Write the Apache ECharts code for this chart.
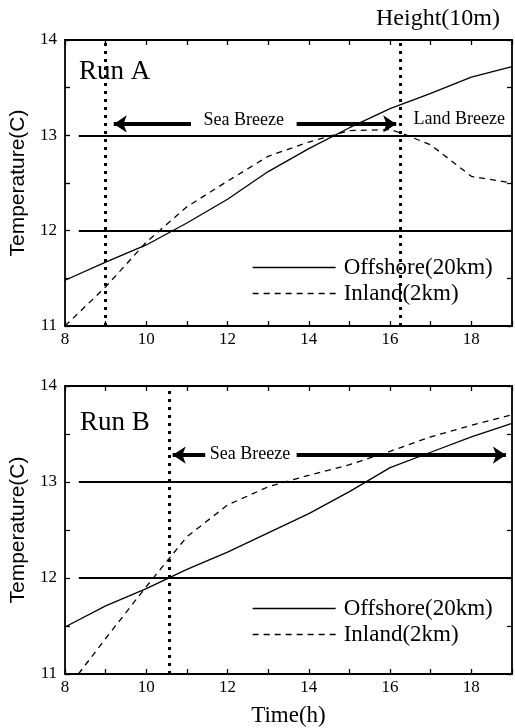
<!DOCTYPE html>
<html>
<head>
<meta charset="utf-8">
<script src="https://cdn.jsdelivr.net/npm/echarts@6/dist/echarts.min.js"></script>
<style>html,body{margin:0;padding:0;background:#fff}#c{width:515px;height:728px}</style>
</head>
<body>
<div id="c"></div>
<script>
// ---- data ----
const HOURS = [8, 9, 10, 11, 12, 13, 14, 15, 16, 17, 18, 19];
const RUN_A_OFFSHORE = [11.48, 11.67, 11.85, 12.08, 12.33, 12.62, 12.86, 13.08, 13.28, 13.44, 13.61, 13.72];
const RUN_A_INLAND_HOURS = [8, 9, 10, 11, 12, 13, 14, 15, 16, 16.3, 17, 18, 19];
const RUN_A_INLAND = [11.0, 11.41, 11.88, 12.25, 12.52, 12.78, 12.93, 13.05, 13.06, 13.02, 12.9, 12.57, 12.5];
const RUN_B_OFFSHORE = [11.49, 11.71, 11.89, 12.09, 12.27, 12.47, 12.67, 12.9, 13.15, 13.31, 13.47, 13.61];
const RUN_B_INLAND_HOURS = [8.33, 9, 10, 10.5, 11, 12, 13, 14, 15, 16, 17, 18, 19];
const RUN_B_INLAND = [11.0, 11.37, 11.91, 12.17, 12.43, 12.76, 12.95, 13.07, 13.18, 13.32, 13.47, 13.59, 13.7];
const X_TICKS = [8, 10, 12, 14, 16, 18];
const Y_TICKS = [11, 12, 13, 14];
const REF_TEMPS = [12, 13];
const REF_START = 8.34;
// annotations (data units)
const A_BREEZE_CHANGE = [9, 16.25];
const A_ARROW_Y = 13.12;
const A_LEFT_ARROW = [11.1, 9.2];
const A_RIGHT_ARROW = [13.7, 16.15];
const A_SEA_LABEL = [12.4, 13.16];
const A_LAND_LABEL = [17.7, 13.17];
const B_BREEZE_CHANGE = [10.57];
const B_ARROW_Y = 13.28;
const B_LEFT_ARROW = [11.45, 10.65];
const B_RIGHT_ARROW = [13.7, 18.85];
const B_SEA_LABEL = [12.55, 13.29];

const NAMES = ['Offshore(20km)', 'Inland(2km)'];
const SERIF = 'Liberation Serif, Times New Roman, serif';
const SANS = 'Liberation Sans, Arial, sans-serif';

const zip = (xs, ys) => xs.map((x, i) => [x, ys[i]]);

function xAxes(gi, showName) {
  const base = {
    type: 'value', gridIndex: gi, min: 8, max: 19, interval: 1,
    axisLine: {show: true, onZero: false, lineStyle: {color: '#000', width: 1.8}},
    axisTick: {show: true, inside: true, length: 5, lineStyle: {color: '#000', width: 1.3}},
    splitLine: {show: false}
  };
  return [
    Object.assign({}, base, {
      position: 'bottom',
      axisLabel: {margin: 5, color: '#000', fontFamily: SERIF, fontSize: 17,
        formatter: v => X_TICKS.includes(v) ? String(v) : ''},
      name: showName ? 'Time(h)' : '', nameLocation: 'middle', nameGap: 30,
      nameTextStyle: {color: '#000', fontFamily: SERIF, fontSize: 23}
    }),
    Object.assign({}, base, {position: 'top', axisLabel: {show: false}})
  ];
}
function yAxes(gi) {
  const base = {
    type: 'value', gridIndex: gi, min: 11, max: 14, interval: 0.5,
    axisLine: {show: true, onZero: false, lineStyle: {color: '#000', width: 1.8}},
    axisTick: {show: true, inside: true, length: 5, lineStyle: {color: '#000', width: 1.3}},
    splitLine: {show: false}
  };
  return [
    Object.assign({}, base, {
      position: 'left',
      axisLabel: {margin: 8, color: '#000', fontFamily: SERIF, fontSize: 17,
        formatter: v => Y_TICKS.includes(v) ? String(v) : ''},
      name: 'Temperature(C)', nameLocation: 'middle', nameRotate: 90, nameGap: 36,
      nameTextStyle: {color: '#000', fontFamily: SANS, fontSize: 21}
    }),
    Object.assign({}, base, {position: 'right', axisLabel: {show: false}})
  ];
}

function arrowLine(from, to, y) {
  return [
    {coord: [from, y], symbol: 'none'},
    {coord: [to, y], symbol: 'arrow', symbolSize: [13, 13]}
  ];
}
function refLines() {
  return REF_TEMPS.map(t => [
    {coord: [REF_START, t], symbol: 'none', lineStyle: {type: 'solid', width: 2, color: '#000'}},
    {coord: [19, t], symbol: 'none'}
  ]);
}
function vLines(xs) {
  return xs.map(x => ({xAxis: x, symbol: 'none', lineStyle: {type: [3, 5], width: 3, color: '#000'}}));
}
const labelPoint = (coord, text) => ({coord: coord, name: text});
const markPointStyle = {
  symbol: 'rect', symbolSize: 1, itemStyle: {color: 'rgba(0,0,0,0)'},
  label: {show: true, position: 'inside', formatter: '{b}', color: '#000', fontFamily: SERIF, fontSize: 18}
};

function runSeries(gi, offHours, off, inHours, inl, marks, points) {
  return [
    {
      name: NAMES[0], type: 'line', xAxisIndex: gi * 2, yAxisIndex: gi * 2,
      data: zip(offHours, off), symbol: 'none', smooth: false,
      lineStyle: {color: '#000', width: 1.3, type: 'solid'}, itemStyle: {color: '#000'},
      markLine: {silent: true, animation: false, symbol: 'none', label: {show: false},
        lineStyle: {color: '#000', width: 4, type: 'solid'}, data: marks},
      markPoint: Object.assign({silent: true, animation: false, data: points}, markPointStyle),
      z: 3
    },
    {
      name: NAMES[1], type: 'line', xAxisIndex: gi * 2, yAxisIndex: gi * 2,
      data: zip(inHours, inl), symbol: 'none', smooth: false,
      lineStyle: {color: '#000', width: 1.3, type: [6, 5]}, itemStyle: {color: '#000'},
      z: 3
    }
  ];
}

const chart = echarts.init(document.getElementById('c'), null, {renderer: 'canvas'});
const legendBase = {
  orient: 'vertical', left: 247, itemWidth: 83, itemHeight: 14, itemGap: 3,
  data: NAMES, selectedMode: false,
  itemStyle: {opacity: 0},
  lineStyle: {width: 1.3},
  textStyle: {color: '#000', fontFamily: SERIF, fontSize: 23, lineHeight: 22, padding: [0, 0, 0, 3]}
};
const option = {
  animation: false,
  backgroundColor: '#fff',
  grid: [
    {left: 63, right: 1, top: 40, height: 286, show: false},
    {left: 63, right: 1, top: 386, height: 288, show: false}
  ],
  xAxis: [...xAxes(0, false), ...xAxes(1, true)],
  yAxis: [...yAxes(0), ...yAxes(1)],
  legend: [
    Object.assign({}, legendBase, {top: 251}),
    Object.assign({}, legendBase, {top: 592})
  ],
  graphic: [
    {type: 'text', right: 15, top: 7, style: {text: 'Height(10m)', fill: '#000', font: '24px ' + SERIF}},
    {type: 'text', left: 79, top: 58, style: {text: 'Run A', fill: '#000', font: '27px ' + SERIF}},
    {type: 'text', left: 80, top: 409, style: {text: 'Run B', fill: '#000', font: '27px ' + SERIF}}
  ],
  series: [
    ...runSeries(0, HOURS, RUN_A_OFFSHORE, RUN_A_INLAND_HOURS, RUN_A_INLAND,
      [...refLines(), ...vLines(A_BREEZE_CHANGE),
        arrowLine(A_LEFT_ARROW[0], A_LEFT_ARROW[1], A_ARROW_Y),
        arrowLine(A_RIGHT_ARROW[0], A_RIGHT_ARROW[1], A_ARROW_Y)],
      [labelPoint(A_SEA_LABEL, 'Sea Breeze'), labelPoint(A_LAND_LABEL, 'Land Breeze')]),
    ...runSeries(1, HOURS, RUN_B_OFFSHORE, RUN_B_INLAND_HOURS, RUN_B_INLAND,
      [...refLines(), ...vLines(B_BREEZE_CHANGE),
        arrowLine(B_LEFT_ARROW[0], B_LEFT_ARROW[1], B_ARROW_Y),
        arrowLine(B_RIGHT_ARROW[0], B_RIGHT_ARROW[1], B_ARROW_Y)],
      [labelPoint(B_SEA_LABEL, 'Sea Breeze')])
  ]
};
chart.setOption(option);
</script>
</body>
</html>
